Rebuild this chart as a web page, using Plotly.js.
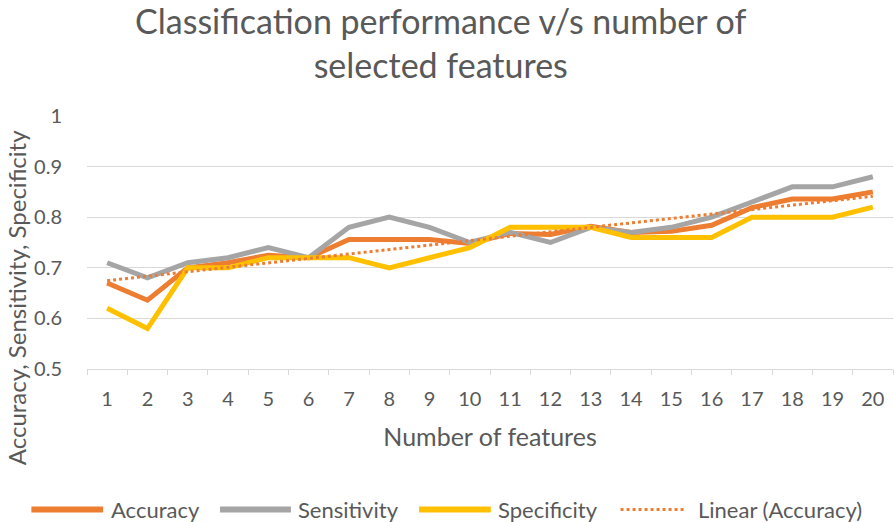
<!DOCTYPE html>
<html>
<head>
<meta charset="utf-8">
<script src="https://cdn.plot.ly/plotly-3.0.1.min.js"></script>
<style>html,body{margin:0;padding:0;background:#fff;}#chart{width:894px;height:522px;}</style>
</head>
<body>
<div id="chart"></div>
<script>
var features = ["1","2","3","4","5","6","7","8","9","10","11","12","13","14","15","16","17","18","19","20"];
var accuracy = [0.67,0.636,0.70,0.71,0.725,0.72,0.756,0.756,0.756,0.748,0.768,0.766,0.782,0.77,0.772,0.784,0.819,0.836,0.836,0.85];
var sensitivity = [0.71,0.68,0.71,0.72,0.74,0.72,0.78,0.80,0.78,0.75,0.77,0.75,0.78,0.77,0.78,0.80,0.83,0.86,0.86,0.88];
var specificity = [0.62,0.58,0.70,0.70,0.72,0.72,0.72,0.70,0.72,0.74,0.78,0.78,0.78,0.76,0.76,0.76,0.80,0.80,0.80,0.82];
var seriesNames = ["Accuracy", "Sensitivity", "Specificity", "Linear (Accuracy)"];
var yTicks = [0.5, 0.6, 0.7, 0.8, 0.9, 1];
var yTickText = ["0.5", "0.6", "0.7", "0.8", "0.9", "1"];
var yTitle = "Accuracy, Sensitivity, Specificity";

// Linear trendline (least squares fit of accuracy, as Excel does)
var n = accuracy.length, sx = 0, sy = 0, sxx = 0, sxy = 0;
for (var i = 0; i < n; i++) { var xi = i + 1; sx += xi; sy += accuracy[i]; sxx += xi*xi; sxy += xi*accuracy[i]; }
var slope = (n*sxy - sx*sy) / (n*sxx - sx*sx);
var intercept = (sy - slope*sx) / n;
var trend = accuracy.map(function(_, i){ return intercept + slope*(i+1); });

var font = "Lato, 'Open Sans', sans-serif";
var grey = "#595959";
var styles = [
  {color: "#ED7D31", width: 5},
  {color: "#A5A5A5", width: 5},
  {color: "#FFC000", width: 5},
  {color: "#ED7D31", width: 3, dash: "dot"}
];
var values = [accuracy, sensitivity, specificity, trend];
var data = values.map(function(v, k){
  return {x: features, y: v, name: seriesNames[k], type: "scatter", mode: "lines", line: styles[k], showlegend: false};
});

// custom legend (paper coordinates)
var legY = -0.555;
var legLine = [[-0.069, 0.020], [0.165, 0.253], [0.412, 0.501], [0.662, 0.742]];
var legText = [0.027, 0.259, 0.507, 0.755];
var shapes = [], annotations = [];
for (var k = 0; k < 4; k++) {
  shapes.push({type: "line", xref: "paper", yref: "paper", x0: legLine[k][0], x1: legLine[k][1], y0: legY, y1: legY,
               line: {color: styles[k].color, width: k === 3 ? 3 : 6, dash: k === 3 ? "dot" : "solid"}});
  annotations.push({xref: "paper", yref: "paper", x: legText[k], y: legY, xanchor: "left", yanchor: "middle",
                    text: seriesNames[k], showarrow: false, font: {family: font, size: 22, color: grey}});
}
// y-axis title (placed like the original, off-centre)
annotations.push({xref: "paper", yref: "paper", x: -0.088, y: 0.28, xanchor: "center", yanchor: "middle",
                  textangle: -90, text: yTitle, showarrow: false, font: {family: font, size: 24, color: grey}});

var layout = {
  width: 894, height: 522,
  margin: {l: 87, r: 1, t: 116, b: 153},
  paper_bgcolor: "#fff", plot_bgcolor: "#fff",
  font: {family: font, color: grey, size: 20},
  title: {text: "Classification performance v/s number of<br>selected features", x: 0.493, xanchor: "center", y: 0.935, yanchor: "top",
          font: {family: font, size: 34, color: grey}},
  xaxis: {type: "category", range: [-0.5, 19.5], tickson: "boundaries", ticks: "outside", ticklen: 5, tickcolor: "#D9D9D9",
          showline: true, linecolor: "#D9D9D9", linewidth: 1, showgrid: false,
          ticklabelstandoff: 12, tickfont: {size: 20, color: grey},
          title: {text: "Number of features", font: {size: 25, color: grey}, standoff: 19}},
  yaxis: {range: [0.5, 1], tickvals: yTicks, ticktext: yTickText,
          showgrid: true, gridcolor: "#D9D9D9", gridwidth: 1, zeroline: false, showline: false,
          ticklabelstandoff: 24, tickfont: {size: 20, color: grey}},
  showlegend: false,
  shapes: shapes,
  annotations: annotations
};
Plotly.newPlot("chart", data, layout, {displayModeBar: false, staticPlot: true});
</script>
</body>
</html>
